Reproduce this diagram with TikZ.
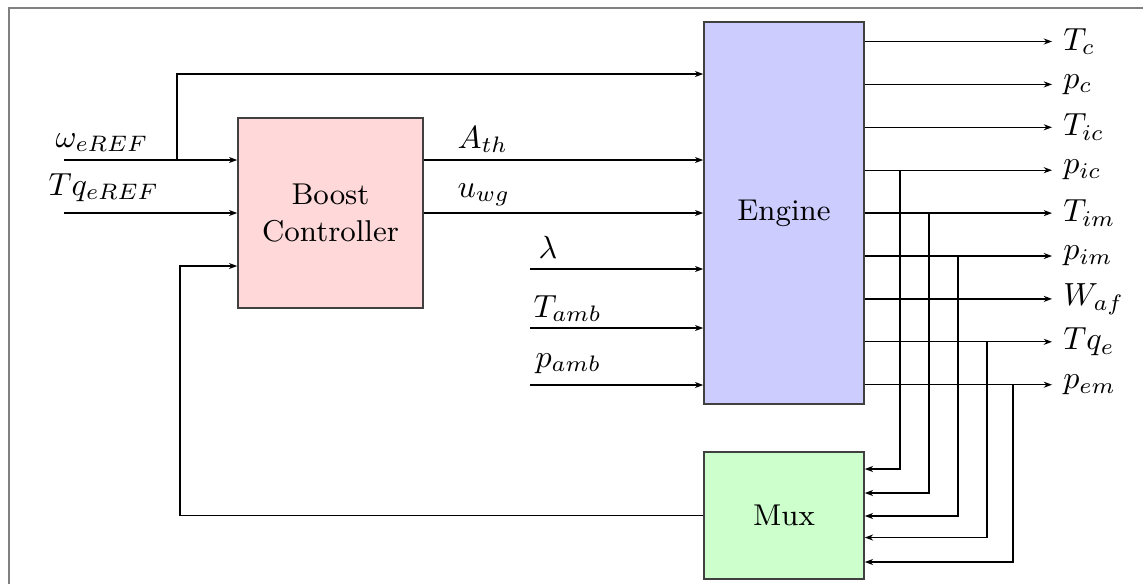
\documentclass[tikz,border=0pt]{standalone}
\usetikzlibrary{arrows.meta}
\begin{document}
\begin{tikzpicture}[x=0.3125pt,y=-0.3125pt,
  blk/.style={draw=black!75, line width=0.5pt, inner sep=0pt, align=center, font=\fontsize{9.4}{11.3}\selectfont},
  arr/.style={-{Stealth[length=2.6pt,width=1.9pt]}, line width=0.4pt},
  outlab/.style={anchor=west},
  inlab/.style={anchor=base west, inner sep=0pt},
  frm/.style={draw=black!50, line width=0.6pt}]
\useasboundingbox (0,0) rectangle (1143,584);
\draw[frm] (9,584) -- (9,8) -- (1143,8);

% blocks
\node[blk, fill=red!15, minimum width=185*0.3125pt, minimum height=190*0.3125pt] (boost) at (330.5,213) {Boost\\Controller};
\node[blk, fill=blue!20, minimum width=160*0.3125pt, minimum height=382*0.3125pt] (engine) at (784,213) {Engine};
\node[blk, fill=green!20, minimum width=160*0.3125pt, minimum height=127*0.3125pt] (mux) at (784,515.5) {Mux};

% free input ends
\coordinate (wIn) at (64,160);
\coordinate (tqIn) at (64,213);
\coordinate (wBr) at (177,160);
\coordinate (fbC) at (180,266);
\coordinate (lamIn) at (530,269);
\coordinate (tambIn) at (530,328);
\coordinate (pambIn) at (530,385);

% input labels
\node[inlab] (wL) at (55,147) {$\omega_{eREF}$};
\node[inlab] (tqL) at (48,195) {$Tq_{eREF}$};
\node[inlab] (athL) at (457,148) {$A_{th}$};
\node[inlab] (uwgL) at (457,197) {$u_{wg}$};
\node[inlab] (lamL) at (538,258) {$\lambda$};
\node[inlab] (tambL) at (533,317) {$T_{amb}$};
\node[inlab] (pambL) at (535,367) {$p_{amb}$};

% controller inputs
\draw[arr] (wIn) -- (wIn -| boost.west);
\draw[arr] (tqIn) -- (tqIn -| boost.west);
\draw[arr] (wBr) |- (engine.west |- 0,74);
\draw[arr] (mux.west) -| (fbC) -- (fbC -| boost.west);

% controller outputs to engine
\draw[arr] (boost.east |- 0,160) -- (engine.west |- 0,160);
\draw[arr] (boost.east |- 0,213) -- (engine.west |- 0,213);

% other engine inputs
\draw[arr] (lamIn) -- (lamIn -| engine.west);
\draw[arr] (tambIn) -- (tambIn -| engine.west);
\draw[arr] (pambIn) -- (pambIn -| engine.west);

% engine outputs
\node[outlab] (o1) at (1052,41.5) {$T_c$};
\node[outlab] (o2) at (1052,84.4) {$p_c$};
\node[outlab] (o3) at (1052,127.3) {$T_{ic}$};
\node[outlab] (o4) at (1052,170.2) {$p_{ic}$};
\node[outlab] (o5) at (1052,213.1) {$T_{im}$};
\node[outlab] (o6) at (1052,256) {$p_{im}$};
\node[outlab] (o7) at (1052,298.9) {$W_{af}$};
\node[outlab] (o8) at (1052,341.8) {$Tq_e$};
\node[outlab] (o9) at (1052,384.7) {$p_{em}$};
\foreach \i in {1,...,9} {
  \draw[arr] (o\i.west -| engine.east) -- (o\i.west);
}

% taps to mux
\coordinate (t4) at (900,170.2);
\coordinate (t5) at (929,213.1);
\coordinate (t6) at (958,256);
\coordinate (t8) at (987,341.8);
\coordinate (t9) at (1013,384.7);
\draw[arr] (t4) |- (mux.east |- 0,469);
\draw[arr] (t5) |- (mux.east |- 0,493);
\draw[arr] (t6) |- (mux.east |- 0,516);
\draw[arr] (t8) |- (mux.east |- 0,537.5);
\draw[arr] (t9) |- (mux.east |- 0,562);
\end{tikzpicture}
\end{document}
